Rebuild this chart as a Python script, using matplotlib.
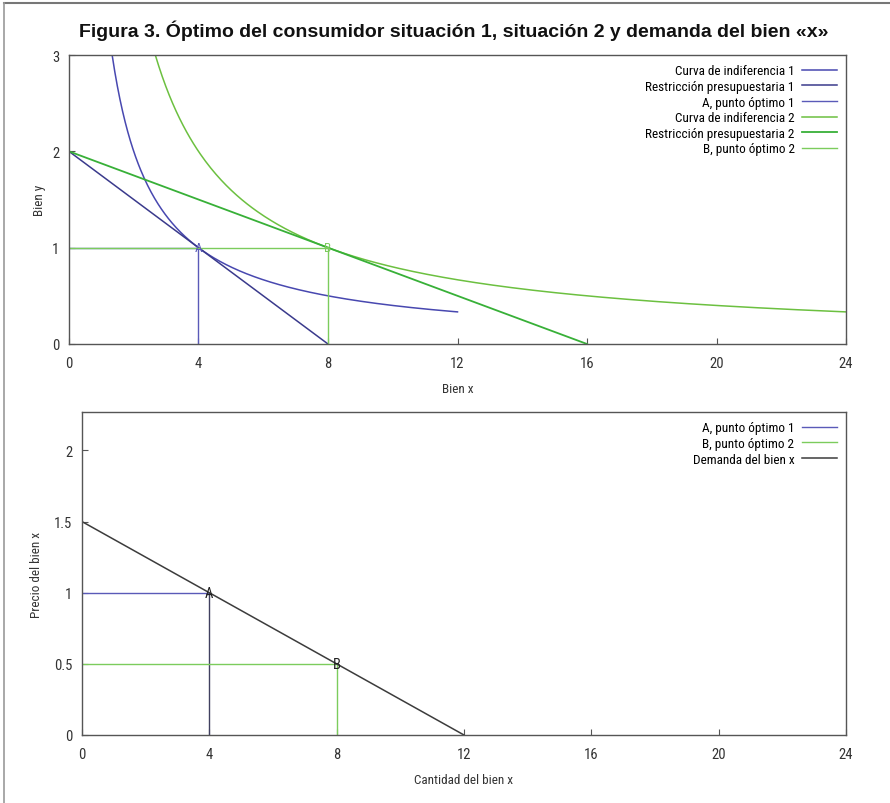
import numpy as np
import matplotlib.pyplot as plt
from matplotlib import font_manager
from matplotlib.lines import Line2D

# pick a narrow font if one is installed
installed = {f.name for f in font_manager.fontManager.ttflist}
narrow = None
for name in ['Liberation Sans Narrow', 'DejaVu Sans Condensed', 'Roboto Condensed',
             'Open Sans Condensed', 'Noto Sans Display', 'Roboto', 'Lato']:
    if name in installed:
        narrow = name
        break
if narrow is None:
    narrow = 'DejaVu Sans'
stretch = 'condensed' if narrow in ('DejaVu Sans', 'Noto Sans', 'Open Sans') else 'normal'
plt.rcParams['font.family'] = [narrow, 'DejaVu Sans']

# situation 1 and 2: income, price of x, price of y, utility level (x*y)
income = [8, 8]
price_x = [1.0, 0.5]
price_y = [4.0, 4.0]
utility = [4, 8]
ic_xmax = [12, 24]

# optimum points
opt_x = [4, 8]
opt_y = [1, 1]
opt_labels = ['A', 'B']

# demand of good x
demand_q = [0, 12]
demand_p = [1.5, 0]

xticks = [0, 4, 8, 12, 16, 20, 24]
yticks_top = [0, 1, 2, 3]
yticks_bot = [0, 0.5, 1, 1.5, 2]

c_ic1 = '#4848b0'
c_bud1 = '#3a3a8c'
c_opt1 = '#5a5ab8'
c_ic2 = '#6cc040'
c_bud2 = '#38b038'
c_opt2 = '#7ccc5c'
c_dem = '#3c3c3c'
c_axis = '#555555'

fs = 9.5 if narrow != 'DejaVu Sans' else 8.5
tfs = fs + 1

fig = plt.figure(figsize=(8.9, 8.04), dpi=100)
# page frame, only top and left edges visible
fig.add_artist(Line2D([0.005, 1.0], [0.995, 0.995], transform=fig.transFigure,
                      color='#777777', lw=1.5))
fig.add_artist(Line2D([0.005, 0.005], [0.0, 0.995], transform=fig.transFigure,
                      color='#999999', lw=1.2))

fig.text(0.51, 0.962, 'Figura 3. Óptimo del consumidor situación 1, situación 2 y demanda del bien «x»',
         ha='center', va='center', fontsize=14, fontweight='bold',
         family=['Liberation Sans', 'DejaVu Sans'], color='#111111')


def style_axes(ax):
    for s in ax.spines.values():
        s.set_color(c_axis)
        s.set_linewidth(1.0)
    ax.tick_params(direction='in', length=4, width=0.8, colors=c_axis,
                   labelcolor='#333333', labelsize=tfs)
    ax.tick_params(axis='x', pad=9)
    ax.tick_params(axis='y', pad=7)
    for t in ax.get_xticklabels() + ax.get_yticklabels():
        t.set_fontstretch(stretch)


# top panel
ax1 = fig.add_axes([0.0775, 0.5709, 0.8731, 0.3594])
ic_cols = [c_ic1, c_ic2]
bud_cols = [c_bud1, c_bud2]
opt_cols = [c_opt1, c_opt2]
ic_names = ['Curva de indiferencia 1', 'Curva de indiferencia 2']
bud_names = ['Restricción presupuestaria 1', 'Restricción presupuestaria 2']
opt_names = ['A, punto óptimo 1', 'B, punto óptimo 2']
handles = []
for i in range(2):
    xs = np.linspace(utility[i] / 3.0, ic_xmax[i], 400)
    h_ic, = ax1.plot(xs, utility[i] / xs, color=ic_cols[i], lw=1.1, label=ic_names[i])
    bx = [0, income[i] / price_x[i]]
    by = [income[i] / price_y[i], 0]
    h_b, = ax1.plot(bx, by, color=bud_cols[i], lw=1.3 if i else 1.1, label=bud_names[i])
    h_o, = ax1.plot([opt_x[i], opt_x[i], 0], [0, opt_y[i], opt_y[i]],
                    color=opt_cols[i], lw=1.0, label=opt_names[i])
    ax1.text(opt_x[i], opt_y[i], opt_labels[i], ha='center', va='center',
             fontsize=fs, color=opt_cols[i], fontstretch=stretch)
    handles += [h_ic, h_b, h_o]

ax1.set_xlim(0, 24)
ax1.set_ylim(0, 3)
ax1.set_xticks(xticks)
ax1.set_yticks(yticks_top)
ax1.set_xlabel('Bien x', fontsize=fs, color='#333333', labelpad=8, fontstretch=stretch)
ax1.set_ylabel('Bien y', fontsize=fs, color='#333333', labelpad=4, fontstretch=stretch)
style_axes(ax1)
leg1 = ax1.legend(handles=handles, loc='upper right', frameon=False, markerfirst=False,
                  fontsize=fs, handlelength=2.6, labelspacing=0.2, handletextpad=0.6,
                  borderaxespad=0.3)
for t in leg1.get_texts():
    t.set_fontstretch(stretch)

# bottom panel
ax2 = fig.add_axes([0.0921, 0.0846, 0.8584, 0.4017])
vert_cols = ['#404060', c_opt2]
bh = []
for i in range(2):
    p = price_x[i]
    h, = ax2.plot([0, opt_x[i]], [p, p], color=opt_cols[i], lw=1.0, label=opt_names[i])
    ax2.plot([opt_x[i], opt_x[i]], [0, p], color=vert_cols[i], lw=1.0)
    ax2.text(opt_x[i], p, opt_labels[i], ha='center', va='center', fontsize=tfs,
             color='#222222', fontstretch=stretch)
    bh.append(h)
h_d, = ax2.plot(demand_q, demand_p, color=c_dem, lw=1.1, label='Demanda del bien x')
bh.append(h_d)

ax2.set_xlim(0, 24)
ax2.set_ylim(0, 2.27)
ax2.set_xticks(xticks)
ax2.set_yticks(yticks_bot)
ax2.set_yticklabels(['0', '0.5', '1', '1.5', '2'])
ax2.set_xlabel('Cantidad del bien x', fontsize=fs, color='#333333', labelpad=8,
               fontstretch=stretch)
ax2.set_ylabel('Precio del bien x', fontsize=fs, color='#333333', labelpad=8,
               fontstretch=stretch)
style_axes(ax2)
leg2 = ax2.legend(handles=bh, loc='upper right', frameon=False, markerfirst=False,
                  fontsize=fs, handlelength=2.6, labelspacing=0.2, handletextpad=0.6,
                  borderaxespad=0.3)
for t in leg2.get_texts():
    t.set_fontstretch(stretch)

fig.savefig('out.png', dpi=100)
